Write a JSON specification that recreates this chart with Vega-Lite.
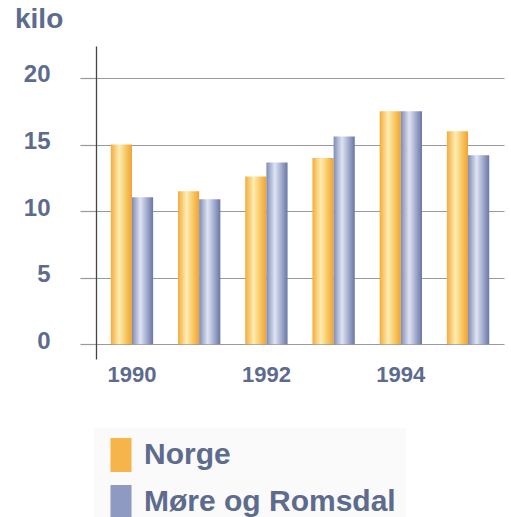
{
  "$schema": "https://vega.github.io/schema/vega-lite/v6.json",
  "width": 408,
  "height": 313,
  "autosize": {"type": "none"},
  "padding": {"left": 96, "top": 46, "right": 7, "bottom": 158},
  "background": "white",
  "config": {"view": {"stroke": null}},
  "title": {
    "text": "kilo",
    "anchor": "start",
    "frame": "group",
    "dx": -81,
    "offset": 12,
    "fontSize": 28,
    "fontWeight": "bold",
    "font": "Liberation Sans",
    "color": "#5d6b8e"
  },
  "data": {
    "values": [
      {"year": 1990, "series": "Norge", "value": 15.0},
      {"year": 1990, "series": "Møre og Romsdal", "value": 11.05},
      {"year": 1991, "series": "Norge", "value": 11.5},
      {"year": 1991, "series": "Møre og Romsdal", "value": 10.9},
      {"year": 1992, "series": "Norge", "value": 12.6},
      {"year": 1992, "series": "Møre og Romsdal", "value": 13.65},
      {"year": 1993, "series": "Norge", "value": 14.0},
      {"year": 1993, "series": "Møre og Romsdal", "value": 15.6},
      {"year": 1994, "series": "Norge", "value": 17.5},
      {"year": 1994, "series": "Møre og Romsdal", "value": 17.5},
      {"year": 1995, "series": "Norge", "value": 16.0},
      {"year": 1995, "series": "Møre og Romsdal", "value": 14.2}
    ]
  },
  "encoding": {
    "x": {
      "field": "year",
      "type": "ordinal",
      "scale": {"paddingInner": 0.37, "paddingOuter": 0.22},
      "axis": {
        "title": null,
        "values": [1990, 1992, 1994],
        "domain": false,
        "ticks": false,
        "labelAngle": 0,
        "labelFontSize": 22,
        "labelFont": "Liberation Sans",
        "labelFontWeight": "bold",
        "labelColor": "#5d6b8e",
        "labelPadding": 5
      }
    },
    "xOffset": {
      "field": "series",
      "type": "nominal",
      "scale": {"domain": ["Norge", "Møre og Romsdal"], "paddingInner": 0, "paddingOuter": 0}
    },
    "y": {
      "field": "value",
      "type": "quantitative",
      "scale": {"domain": [-1.1, 22.4], "nice": false, "zero": false},
      "axis": {
        "title": null,
        "values": [0, 5, 10, 15, 20],
        "grid": true,
        "gridColor": "#9a9a9a",
        "gridWidth": 1.2,
        "gridOpacity": 1,
        "domainColor": "#444444",
        "domainWidth": 1.3,
        "tickSize": 16,
        "tickColor": "#9a9a9a",
        "tickWidth": 1.2,
        "labelPadding": 30,
        "labelFontSize": 24,
        "labelFont": "Liberation Sans",
        "labelFontWeight": "bold",
        "labelColor": "#5d6b8e",
        "labelOffset": -3
      }
    }
  },
  "layer": [
    {
      "transform": [{"filter": "datum.series === 'Norge'"}],
      "mark": {
        "type": "bar",
        "color": {
          "gradient": "linear",
          "x1": 0, "y1": 0, "x2": 1, "y2": 0,
          "stops": [
            {"offset": 0, "color": "#f4ab3c"},
            {"offset": 0.4, "color": "#fdedb2"},
            {"offset": 0.75, "color": "#f7c25a"},
            {"offset": 1, "color": "#f0a236"}
          ]
        }
      }
    },
    {
      "transform": [{"filter": "datum.series === 'Møre og Romsdal'"}],
      "mark": {
        "type": "bar",
        "color": {
          "gradient": "linear",
          "x1": 0, "y1": 0, "x2": 1, "y2": 0,
          "stops": [
            {"offset": 0, "color": "#7e8bb5"},
            {"offset": 0.4, "color": "#dfe4f3"},
            {"offset": 0.75, "color": "#98a3c8"},
            {"offset": 1, "color": "#6a77a2"}
          ]
        }
      }
    },
    {
      "mark": {"type": "point", "opacity": 0, "filled": true},
      "encoding": {
        "color": {
          "field": "series",
          "type": "nominal",
          "scale": {"domain": ["Norge", "Møre og Romsdal"], "range": ["#f6b54a", "#8e9ac2"]},
          "legend": {
            "title": null,
            "orient": "none",
            "legendX": -2,
            "legendY": 382,
            "padding": 10,
            "fillColor": "#fafafa",
            "symbolType": "M-0.62,-1H0.62V1H-0.62Z",
            "symbolSize": 1156,
            "symbolOpacity": 1,
            "symbolStrokeWidth": 0,
            "labelFontSize": 30,
            "labelFont": "Liberation Sans",
            "labelFontWeight": "bold",
            "labelColor": "#5d6b8e",
            "labelOffset": 6,
            "rowPadding": 13,
            "labelLimit": 400,
            "offset": 0,
            "encode": {
              "symbols": {
                "update": {
                  "opacity": {"value": 1},
                  "fillOpacity": {"value": 1},
                  "strokeWidth": {"value": 0}
                }
              }
            }
          }
        }
      }
    }
  ]
}
